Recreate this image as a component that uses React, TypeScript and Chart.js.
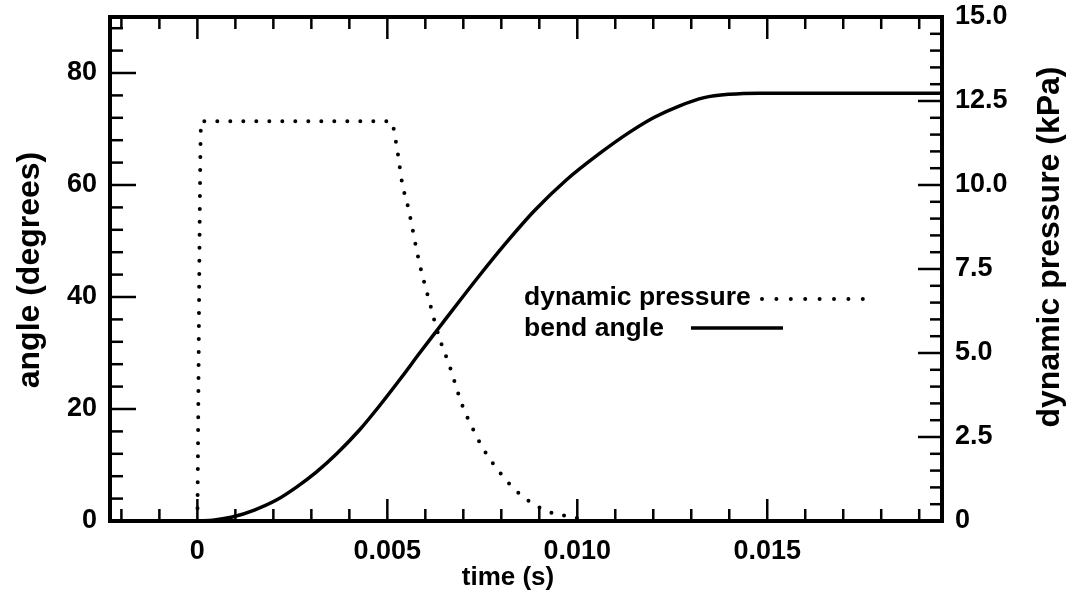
import React, { useEffect, useRef } from "react";
import { Chart, registerables } from "chart.js";

Chart.register(...registerables);

// ---- data (time in seconds) ----
const angleTimes = [
  0, 0.00045, 0.00092, 0.0015, 0.00208, 0.00261, 0.00313, 0.00368, 0.00426,
  0.00482, 0.00539, 0.00584, 0.00637, 0.00689, 0.00742, 0.00813, 0.00887,
  0.00971, 0.01058, 0.01137, 0.01203, 0.01268, 0.01334, 0.014, 0.01479, 0.0196,
];
const angleValues = [
  0, 0.18, 0.71, 1.96, 3.74, 6.06, 8.73, 12.1, 16.2, 20.8, 25.8, 29.9, 34.6,
  39.2, 43.8, 49.7, 55.4, 60.9, 65.6, 69.4, 72.1, 74.1, 75.6, 76.2, 76.4, 76.4,
];
const pressureTimes = [
  0, 0.0001, 0.0051, 0.00524, 0.00539, 0.00555, 0.00584, 0.00611, 0.00637,
  0.00663, 0.00697, 0.00724, 0.00753, 0.00789, 0.00829, 0.00876, 0.00926,
  0.00984, 0.0103,
];
const pressureValues = [
  0, 11.9, 11.9, 11.2, 10.06, 9.32, 7.7, 6.52, 5.45, 4.64, 3.45, 2.77, 2.14,
  1.55, 1.01, 0.57, 0.27, 0.12, 0.02,
];

const timeTicks = [0, 0.005, 0.01, 0.015];
const timeTickLabels = ["0", "0.005", "0.010", "0.015"];
const angleTicks = [0, 20, 40, 60, 80];
const angleTickLabels = ["0", "20", "40", "60", "80"];
const pressureTicks = [0, 2.5, 5, 7.5, 10, 12.5, 15];
const pressureTickLabels = ["0", "2.5", "5.0", "7.5", "10.0", "12.5", "15.0"];

const seriesNames = ["dynamic pressure", "bend angle"];
const xTitle = "time (s)";
const yTitle = "angle (degrees)";
const y2Title = "dynamic pressure (kPa)";

const FONT = '"Liberation Sans", Arial, Helvetica, sans-serif';

const decorPlugin = {
  id: "decor",
  afterDraw(chart: any) {
    const { ctx, chartArea: a, scales } = chart;
    const xs = scales.x;
    const ys = scales.y;
    const y2s = scales.y2;
    ctx.save();
    ctx.strokeStyle = "#000";
    ctx.fillStyle = "#000";
    ctx.lineCap = "butt";
    ctx.lineWidth = 2.5;
    const seg = (x1: number, y1: number, x2: number, y2: number) => {
      ctx.beginPath();
      ctx.moveTo(x1, y1);
      ctx.lineTo(x2, y2);
      ctx.stroke();
    };
    // x ticks (bottom & top, inward)
    for (let i = -3; i <= 20; i++) {
      const px = xs.getPixelForValue(i / 1000);
      if (px < a.left + 3 || px > a.right - 3) continue;
      const len = i % 5 === 0 ? 22 : 12;
      seg(px, a.bottom, px, a.bottom - len);
      seg(px, a.top, px, a.top + len);
    }
    // left ticks
    for (let v = 0; v <= 88; v += 4) {
      const py = ys.getPixelForValue(v);
      const len = v % 20 === 0 ? 26 : 13;
      seg(a.left, py, a.left + len, py);
    }
    // right ticks
    for (let k = 0; k <= 30; k++) {
      const py = y2s.getPixelForValue(k * 0.5);
      const len = k % 5 === 0 ? 24 : 12;
      seg(a.right, py, a.right - len, py);
    }
    // frame
    ctx.lineWidth = 4;
    ctx.strokeRect(a.left, a.top, a.right - a.left, a.bottom - a.top);

    // titles
    ctx.textAlign = "center";
    ctx.textBaseline = "middle";
    ctx.font = `bold 26px ${FONT}`;
    ctx.fillText(xTitle, 508, 578);
    ctx.font = `bold 32px ${FONT}`;
    ctx.save();
    ctx.translate(30, 270);
    ctx.rotate(-Math.PI / 2);
    ctx.fillText(yTitle, 0, 0);
    ctx.restore();
    ctx.save();
    ctx.translate(1050, 247);
    ctx.rotate(-Math.PI / 2);
    ctx.fillText(y2Title, 0, 0);
    ctx.restore();

    // legend
    ctx.textAlign = "left";
    ctx.textBaseline = "alphabetic";
    ctx.font = `bold 26.5px ${FONT}`;
    ctx.fillText(seriesNames[0], 524, 305);
    ctx.fillText(seriesNames[1], 524, 336);
    ctx.lineWidth = 4;
    ctx.lineCap = "round";
    ctx.setLineDash([0, 14.4]);
    seg(762, 299, 864, 299);
    ctx.setLineDash([]);
    ctx.lineCap = "butt";
    ctx.lineWidth = 3.5;
    seg(691, 328, 783, 328);
    ctx.restore();
  },
};

export default function App() {
  const ref = useRef<HTMLCanvasElement | null>(null);
  useEffect(() => {
    if (!ref.current) return;
    const tickFont = { family: FONT, size: 27, weight: "bold" as const };
    const chart = new Chart(ref.current, {
      type: "line",
      data: {
        datasets: [
          {
            label: seriesNames[0],
            data: pressureTimes.map((t, i) => ({ x: t, y: pressureValues[i] })),
            yAxisID: "y2",
            borderColor: "#000",
            borderWidth: 4,
            borderDash: [0, 13],
            borderCapStyle: "round",
            pointRadius: 0,
            cubicInterpolationMode: "monotone",
            fill: false,
          },
          {
            label: seriesNames[1],
            data: angleTimes.map((t, i) => ({ x: t, y: angleValues[i] })),
            yAxisID: "y",
            borderColor: "#000",
            borderWidth: 3.5,
            pointRadius: 0,
            cubicInterpolationMode: "monotone",
            fill: false,
          },
        ],
      },
      options: {
        responsive: false,
        devicePixelRatio: 1,
        animation: false,
        layout: { padding: { top: 17, left: 0, right: 0, bottom: 0 } },
        plugins: { legend: { display: false }, tooltip: { enabled: false } },
        scales: {
          x: {
            type: "linear",
            min: -0.0023,
            max: 0.0196,
            grid: { display: false, drawTicks: false },
            border: { display: false },
            afterBuildTicks: (s: any) => {
              s.ticks = timeTicks.map((v) => ({ value: v }));
            },
            afterFit: (s: any) => {
              s.height = 79;
              s.paddingLeft = 0;
              s.paddingRight = 0;
            },
            ticks: {
              autoSkip: false,
              maxRotation: 0,
              padding: 14,
              color: "#000",
              font: tickFont,
              callback: (_v: any, i: number) => timeTickLabels[i],
            },
          },
          y: {
            type: "linear",
            position: "left",
            min: 0,
            max: 90,
            grid: { display: false, drawTicks: false },
            border: { display: false },
            afterBuildTicks: (s: any) => {
              s.ticks = angleTicks.map((v) => ({ value: v }));
            },
            afterFit: (s: any) => {
              s.width = 110;
              s.paddingTop = 0;
              s.paddingBottom = 0;
            },
            ticks: {
              autoSkip: false,
              padding: 13,
              color: "#000",
              font: tickFont,
              callback: (_v: any, i: number) => angleTickLabels[i],
            },
          },
          y2: {
            type: "linear",
            position: "right",
            min: 0,
            max: 15,
            grid: { display: false, drawTicks: false },
            border: { display: false },
            afterBuildTicks: (s: any) => {
              s.ticks = pressureTicks.map((v) => ({ value: v }));
            },
            afterFit: (s: any) => {
              s.width = 146;
              s.paddingTop = 0;
              s.paddingBottom = 0;
            },
            ticks: {
              autoSkip: false,
              padding: 13,
              color: "#000",
              font: tickFont,
              callback: (_v: any, i: number) => pressureTickLabels[i],
            },
          },
        },
      },
      plugins: [decorPlugin],
    } as any);
    return () => chart.destroy();
  }, []);
  return (
    <div style={{ position: "absolute", left: 0, top: 0, width: 1088, height: 600, background: "#fff" }}>
      <canvas ref={ref} width={1088} height={600} style={{ display: "block" }} />
    </div>
  );
}
